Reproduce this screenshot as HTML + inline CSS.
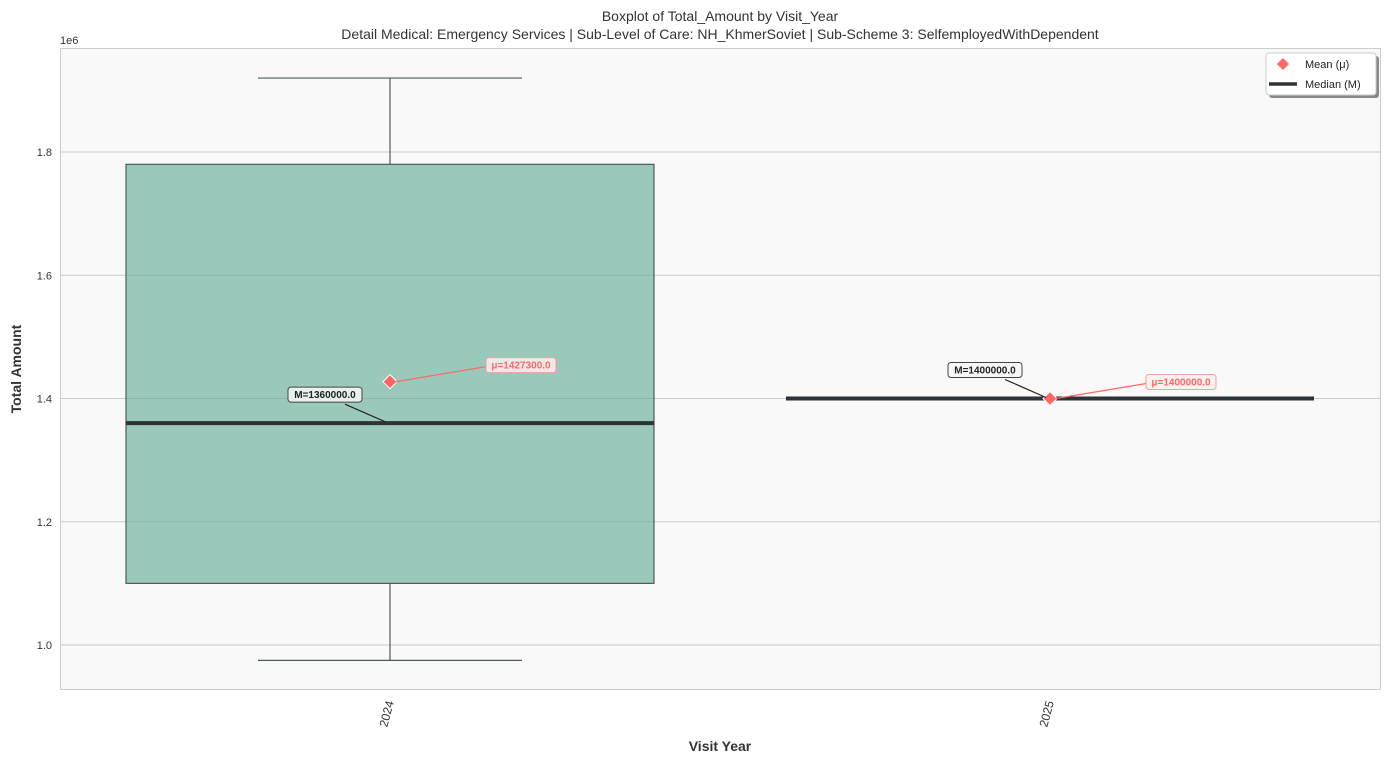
<!DOCTYPE html>
<html><head><meta charset="utf-8"><style>
body{margin:0;background:#fff;font-family:"Liberation Sans","DejaVu Sans",sans-serif;}
svg text{font-family:"Liberation Sans","DejaVu Sans",sans-serif;}
</style></head><body>
<svg id="chart" width="1389" height="763" xmlns="http://www.w3.org/2000/svg">
<rect x="0" y="0" width="1389" height="763" fill="#ffffff"/>
<rect x="60.5" y="48.5" width="1320" height="641" fill="#f9f9f9" stroke="#cccccc"/>
<g id="grid"></g>
<g id="boxes"></g>
<g id="ticks"></g>
<text x="720" y="21" text-anchor="middle" font-size="14" fill="#333">Boxplot of Total_Amount by Visit_Year</text>
<text x="720" y="39" text-anchor="middle" font-size="14" fill="#333">Detail Medical: Emergency Services | Sub-Level of Care: NH_KhmerSoviet | Sub-Scheme 3: SelfemployedWithDependent</text>
<text x="60" y="44" font-size="11" fill="#333">1e6</text>
<text x="720" y="751" text-anchor="middle" font-size="14" font-weight="bold" fill="#333">Visit Year</text>
<text transform="translate(21,369) rotate(-90)" text-anchor="middle" font-size="14" font-weight="bold" fill="#333">Total Amount</text>
<g>
<rect x="1269" y="56" width="110" height="42" rx="3" fill="#888"/>
<rect x="1266" y="53" width="110" height="42" rx="3" fill="#fff" stroke="#ccc"/>
<path d="M1283,58 l6,6 l-6,6 l-6,-6z" fill="#ff6666"/>
<text x="1305" y="68" font-size="11" fill="#222">Mean (μ)</text>
<line x1="1269" y1="84" x2="1297" y2="84" stroke="#2d3436" stroke-width="3.5"/>
<text x="1305" y="88" font-size="11" fill="#222">Median (M)</text>
</g>
</svg>
<script>
const categories=["2024","2025"];
const q1=[1.10,1.40];
const q3=[1.78,1.40];
const medians=[1.36,1.40];
const means=[1.4273,1.40];
const whiskLow=[0.975,1.40];
const whiskHigh=[1.92,1.40];
const yTicks=[1.0,1.2,1.4,1.6,1.8];
const yTickLabels=["1.0","1.2","1.4","1.6","1.8"];
const medianLabels=["M=1360000.0","M=1400000.0"];
const meanLabels=["μ=1427300.0","μ=1400000.0"];
const NS="http://www.w3.org/2000/svg";
function y(v){return 645-(v-1.0)*616.25;}
function x(i){return 390+i*660;}
function mk(tag,attrs,parent,txt){const e=document.createElementNS(NS,tag);for(const k in attrs)e.setAttribute(k,attrs[k]);if(txt!==undefined)e.textContent=txt;parent.appendChild(e);return e;}
const grid=document.getElementById('grid'),boxes=document.getElementById('boxes'),ticks=document.getElementById('ticks');
yTicks.forEach((t,i)=>{
 const l=mk('line',{x1:61,x2:1380,y1:y(t),y2:y(t),stroke:'#cccccc','stroke-width':1},grid);
 
 
 const tx=mk('text',{x:52,y:y(t)+4,'text-anchor':'end','font-size':11,fill:'#333'},ticks,yTickLabels[i]);
 
 
});
categories.forEach((c,i)=>{
 const cx=x(i),hw=264,cw=132;
 const g=mk('g',{},boxes);
 
 
 mk('line',{x1:cx,x2:cx,y1:y(q3[i]),y2:y(whiskHigh[i]),stroke:'#4f5b5b','stroke-width':1.2},g);
 mk('line',{x1:cx,x2:cx,y1:y(q1[i]),y2:y(whiskLow[i]),stroke:'#4f5b5b','stroke-width':1.2},g);
 if(whiskHigh[i]!==whiskLow[i]){
  mk('line',{x1:cx-cw,x2:cx+cw,y1:y(whiskHigh[i]),y2:y(whiskHigh[i]),stroke:'#4f5b5b','stroke-width':1.2},g);
  mk('line',{x1:cx-cw,x2:cx+cw,y1:y(whiskLow[i]),y2:y(whiskLow[i]),stroke:'#4f5b5b','stroke-width':1.2},g);
 }
 const r=mk('rect',{x:cx-hw,y:y(q3[i]),width:2*hw,height:Math.max(0,y(q1[i])-y(q3[i])),fill:'rgba(96,170,148,0.62)',stroke:'#4f5b5b','stroke-width':1.2},g);
 
 
 const m=mk('line',{x1:cx-hw,x2:cx+hw,y1:y(medians[i]),y2:y(medians[i]),stroke:'#2d3436','stroke-width':4},g);
 
 
 const my=y(means[i]);
 const d=mk('path',{d:`M${cx},${my-7} l7,7 l-7,7 l-7,-7z`,fill:'#ff6666',stroke:'#fff','stroke-width':1},g);
 
 
 const mdy=y(medians[i]);
 mk('line',{x1:cx-45,x2:cx-4,y1:mdy-19,y2:mdy-1,stroke:'#222','stroke-width':1.2},g);
 const lb=mk('rect',{x:cx-102,y:mdy-36,width:74,height:15,rx:3,fill:'rgba(245,248,246,0.85)',stroke:'#444'},g);
 
 
 mk('text',{x:cx-65,y:mdy-25,'text-anchor':'middle','font-size':10,'font-weight':'bold',fill:'#222'},g,medianLabels[i]);
 mk('line',{x1:cx+96,x2:cx+6,y1:my-15,y2:my,stroke:'#ff6666','stroke-width':1.2},g);
 const mb=mk('rect',{x:cx+96,y:my-24,width:70,height:15,rx:3,fill:'rgba(250,240,240,0.85)',stroke:'#f0a0a0'},g);
 
 
 mk('text',{x:cx+131,y:my-13,'text-anchor':'middle','font-size':10,'font-weight':'bold',fill:'#ff6666'},g,meanLabels[i]);
 const t=mk('text',{transform:`translate(${cx+4},702) rotate(-75)`,'text-anchor':'end','font-size':12,fill:'#333'},ticks,c);
 
 
});
</script>
</body></html>
